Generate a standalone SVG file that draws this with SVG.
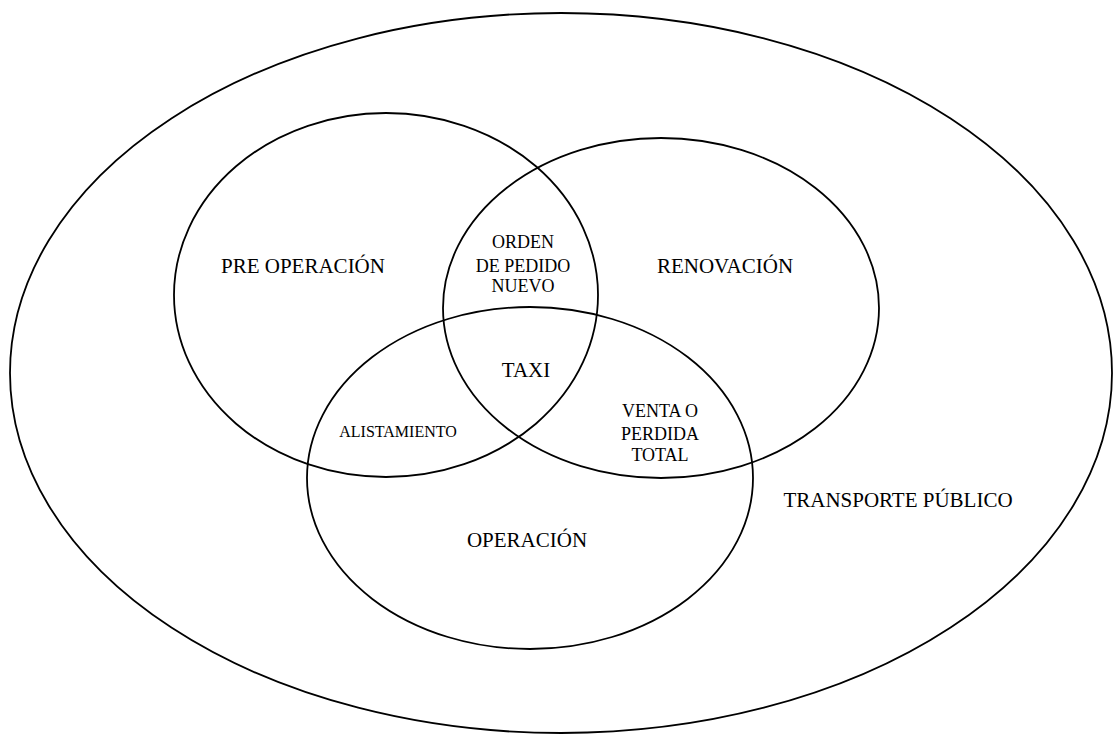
<svg xmlns="http://www.w3.org/2000/svg" width="1115" height="734" viewBox="0 0 1115 734">
<style>
.e{fill:none;stroke:#000;stroke-width:1.8}
.t{font-family:'Liberation Serif',Tinos,'Times New Roman',Times,'DejaVu Serif',serif;fill:#000;text-anchor:middle}
.l{font-size:21px}
.m{font-size:18px}
.s{font-size:16px}
</style>
<rect width="1115" height="734" fill="#fff"/>
<g id="transporte-publico">
<ellipse class="e" cx="561" cy="373" rx="551" ry="360"/>
<text class="t l" x="898" y="507" font-family="Liberation Serif, serif">TRANSPORTE PÚBLICO</text>
</g>
<g id="pre-operacion">
<ellipse class="e" cx="386" cy="295" rx="212" ry="182"/>
<text class="t l" x="303" y="273" font-family="Liberation Serif, serif">PRE OPERACIÓN</text>
</g>
<g id="renovacion">
<ellipse class="e" cx="661" cy="308" rx="218" ry="170"/>
<text class="t l" x="725" y="273" font-family="Liberation Serif, serif">RENOVACIÓN</text>
</g>
<g id="operacion">
<ellipse class="e" cx="530" cy="478" rx="223" ry="171"/>
<text class="t l" x="527" y="547" font-family="Liberation Serif, serif">OPERACIÓN</text>
</g>
<g id="orden-pedido">
<text class="t m" x="523" y="248" font-family="Liberation Serif, serif">ORDEN</text>
<text class="t m" x="523" y="272" font-family="Liberation Serif, serif">DE PEDIDO</text>
<text class="t m" x="523" y="292" font-family="Liberation Serif, serif">NUEVO</text>
</g>
<g id="taxi">
<text class="t l" x="526" y="377" font-family="Liberation Serif, serif">TAXI</text>
</g>
<g id="alistamiento">
<text class="t s" x="398" y="437" font-family="Liberation Serif, serif">ALISTAMIENTO</text>
</g>
<g id="venta">
<text class="t m" x="660" y="417" font-family="Liberation Serif, serif">VENTA O</text>
<text class="t m" x="660" y="440" font-family="Liberation Serif, serif">PERDIDA</text>
<text class="t m" x="660" y="461" font-family="Liberation Serif, serif">TOTAL</text>
</g>
<g id="connectors"/>
</svg>
